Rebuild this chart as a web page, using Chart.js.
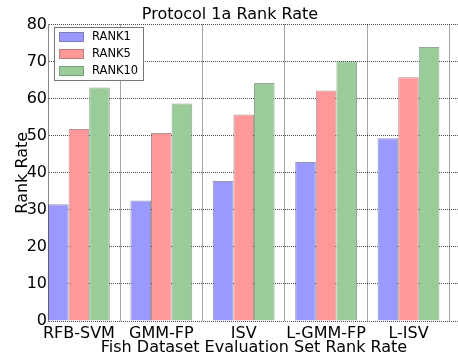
<!DOCTYPE html>
<html>
<head>
<meta charset="utf-8">
<script src="https://cdn.jsdelivr.net/npm/chart.js@4.4.1/dist/chart.umd.min.js"></script>
<style>
    html, body { margin: 0; padding: 0; background: #fff; overflow: hidden; }
    #wrap { width: 460px; height: 355px; position: relative; }
</style>
</head>
<body>
<div id="wrap"><canvas id="chart"></canvas></div>
<script>
// data
let methods = ['RFB-SVM', 'GMM-FP', 'ISV', 'L-GMM-FP', 'L-ISV'];
let rank1 = [31.5, 32.5, 37.8, 42.9, 49.3];
let rank5 = [51.8, 50.7, 55.7, 62.2, 65.8];
let rank10 = [63.0, 58.7, 64.2, 70.1, 73.9];
let yTicks = [0, 10, 20, 30, 40, 50, 60, 70, 80];

let font = "'DejaVu Sans', sans-serif";
let gridColor = 'rgba(0, 0, 0, 0.7)';

function toPoints(values) {
    return values.map(function (v, i) { return { x: i, y: v }; });
}

// legend drawn inside the plot, top left, like matplotlib's
let insideLegend = {
    id: 'insideLegend',
    afterDraw: function (chart) {
        let ctx = chart.ctx;
        let sets = chart.data.datasets;
        ctx.save();
        ctx.fillStyle = '#fff';
        ctx.fillRect(54.5, 27.5, 89, 53);
        ctx.strokeStyle = '#777';
        ctx.lineWidth = 1;
        ctx.strokeRect(54.5, 27.5, 89, 53);
        ctx.font = '11.5px ' + font;
        ctx.textBaseline = 'middle';
        sets.forEach(function (ds, i) {
            let cy = 37 + i * 17;
            ctx.fillStyle = ds.backgroundColor;
            ctx.fillRect(59.5, cy - 4.5, 24, 9);
            ctx.strokeStyle = ds.borderColor;
            ctx.strokeRect(59.5, cy - 4.5, 24, 9);
            ctx.fillStyle = '#000';
            ctx.fillText(ds.label, 92, cy + 0.5);
        });
        ctx.restore();
    }
};

let ctx = document.getElementById('chart').getContext('2d');
let chart = new Chart(ctx, {
    type: 'bar',
    data: {
        datasets: [{
            label: 'RANK1',
            data: toPoints(rank1),
            backgroundColor: '#9999ff',
            borderColor: 'rgba(60, 60, 120, 0.55)',
            borderWidth: 1
        }, {
            label: 'RANK5',
            data: toPoints(rank5),
            backgroundColor: '#ff9999',
            borderColor: 'rgba(120, 60, 60, 0.55)',
            borderWidth: 1
        }, {
            label: 'RANK10',
            data: toPoints(rank10),
            backgroundColor: '#99cc99',
            borderColor: 'rgba(60, 100, 60, 0.55)',
            borderWidth: 1
        }]
    },
    options: {
        responsive: true,
        maintainAspectRatio: false,
        animation: false,
        layout: { padding: 0 },
        datasets: {
            bar: { categoryPercentage: 0.75, barPercentage: 1.0 }
        },
        plugins: {
            legend: { display: false },
            tooltip: { enabled: false },
            title: {
                display: true,
                text: 'Protocol 1a Rank Rate',
                color: '#000',
                font: { family: font, size: 16, weight: 'normal', lineHeight: 1 },
                padding: { top: 7, bottom: 1.5 }
            }
        },
        scales: {
            x: {
                type: 'linear',
                offset: false,
                min: -0.375,
                max: 4.625,
                z: 1,
                afterBuildTicks: function (scale) {
                    scale.ticks = methods.map(function (m, i) { return { value: i }; });
                },
                afterFit: function (scale) { scale.height = 34; },
                ticks: {
                    color: '#000',
                    padding: 3,
                    maxRotation: 0,
                    autoSkip: false,
                    font: { family: font, size: 16 },
                    callback: function (v) { return methods[v]; }
                },
                grid: {
                    color: gridColor,
                    lineWidth: 1,
                    drawTicks: false
                },
                border: { display: false, dash: [1, 1] },
                title: {
                    display: true,
                    text: 'Fish Dataset Evaluation Set Rank Rate',
                    color: '#000',
                    font: { family: font, size: 16, lineHeight: 0.9 },
                    padding: { top: 0, bottom: 0 }
                }
            },
            y: {
                min: 0,
                max: 80,
                z: 1,
                afterBuildTicks: function (scale) {
                    scale.ticks = yTicks.map(function (v) { return { value: v }; });
                },
                afterFit: function (scale) { scale.width = 48; },
                ticks: {
                    color: '#000',
                    padding: 1,
                    font: { family: font, size: 16 }
                },
                grid: {
                    color: gridColor,
                    lineWidth: 1,
                    drawTicks: false
                },
                border: { display: true, color: '#888', width: 1, dash: [1, 1] },
                title: {
                    display: true,
                    text: 'Rank Rate',
                    color: '#000',
                    font: { family: font, size: 16, lineHeight: 1 },
                    padding: { top: 15, bottom: 0 }
                }
            }
        }
    },
    plugins: [insideLegend]
});
</script>
</body>
</html>
